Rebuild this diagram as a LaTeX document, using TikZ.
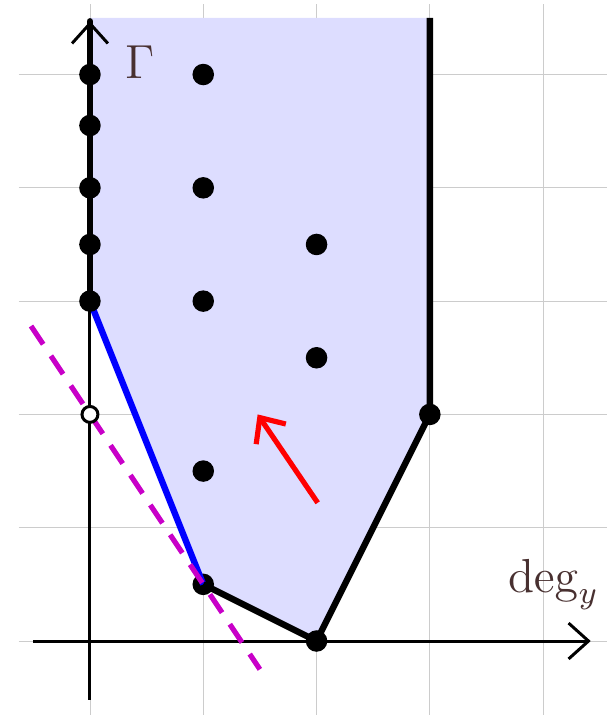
\documentclass[tikz,border=0pt]{standalone}
\usepackage{amsmath}
\usepackage{amssymb}
\usepackage{xcolor}
\usepackage{tikz}
\usetikzlibrary{arrows.meta}
\definecolor{labelbrown}{RGB}{72, 48, 48}
\definecolor{newtonfill}{RGB}{221, 221, 255}
\definecolor{slopemagenta}{RGB}{200, 0, 200}

\begin{document}
\begin{tikzpicture}
\useasboundingbox (-0.794,-0.653) rectangle (4.563,5.658);
\draw[gray!40, very thin] (-0.63,-0.65) grid (4.56,5.62);
\fill[newtonfill] (0,5.5) -- (0,3) -- (1,0.5) -- (2,0) -- (3,2) -- (3,5.5) -- cycle;
\draw[line width=0.75pt, -{Straight Barb[length=5pt,width=9pt]}] (-0.5,0) -- (4.42,0);
\draw[line width=0.75pt, -{Straight Barb[length=5pt,width=9pt]}] (0,-0.52) -- (0,5.47);
\filldraw[black] (1,0.5) circle (2.5pt);
\draw[line width=1.6pt, line cap=round] (0,5.47) -- (0,3);
\draw[blue, line width=1.6pt] (0,3) -- (1,0.5);
\draw[line width=1.6pt, line join=round] (1,0.5) -- (2,0) -- (3,2) -- (3,5.5);
\draw[slopemagenta, line width=1.3pt, dash pattern=on 5.5pt off 3.5pt] (-0.52,2.78) -- (1.5,-0.25);
\filldraw[black] (0,5) circle (2.5pt);
\filldraw[black] (0,4.55) circle (2.5pt);
\filldraw[black] (0,4) circle (2.5pt);
\filldraw[black] (0,3.5) circle (2.5pt);
\filldraw[black] (0,3) circle (2.5pt);
\filldraw[black] (1,5) circle (2.5pt);
\filldraw[black] (1,4) circle (2.5pt);
\filldraw[black] (1,3) circle (2.5pt);
\filldraw[black] (1,1.5) circle (2.5pt);
\filldraw[black] (2,3.5) circle (2.5pt);
\filldraw[black] (2,2.5) circle (2.5pt);
\filldraw[black] (2,0) circle (2.5pt);
\filldraw[black] (3,2) circle (2.5pt);
\filldraw[fill=white, draw=black, line width=0.75pt] (0,2) circle (2pt);
\draw[red, line width=1.3pt, -{Straight Barb[length=5pt,width=9pt]}] (2.01,1.22) -- (1.48,2.0);
\node[labelbrown, font=\large] (gamma) at (0.44,5.11) {$\Gamma$};
\node[labelbrown, font=\large] (degy) at (4.09,0.5) {$\deg_y$};
\end{tikzpicture}
\end{document}
